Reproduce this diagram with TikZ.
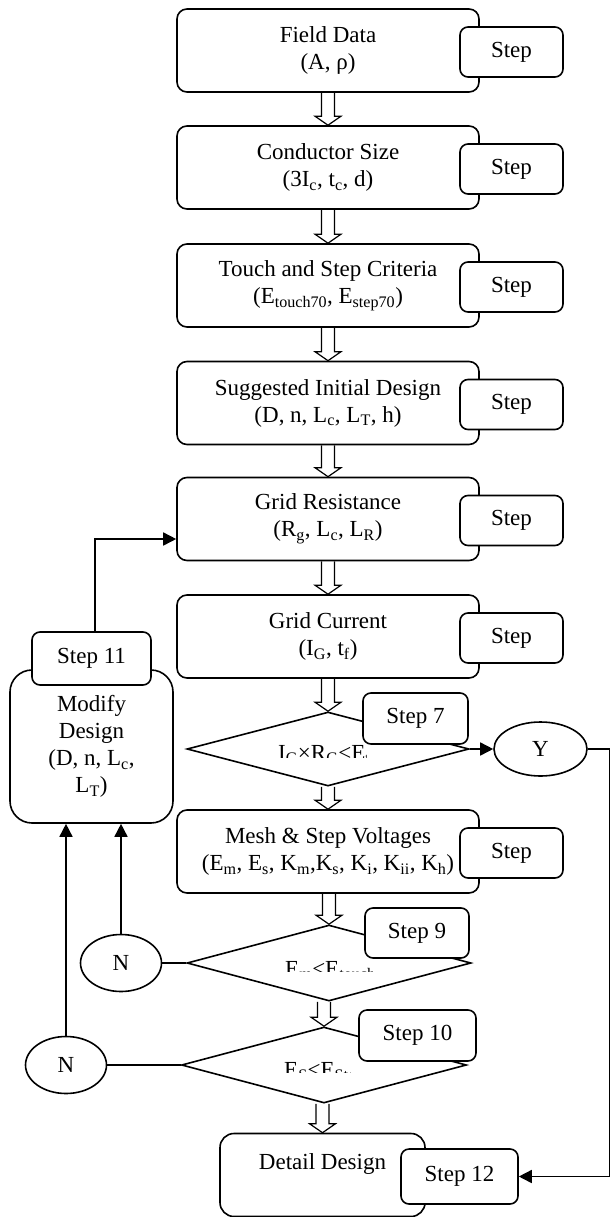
\documentclass[tikz,border=0pt]{standalone}
\usepackage{fontspec}
\setmainfont{Liberation Serif}
\usetikzlibrary{shapes.geometric,arrows.meta,calc}

\newcommand{\fsz}{\fontsize{23}{27}\selectfont}
\newcommand{\FCarr}[2]{\draw[hollow] let \p1=(#1.south), \p2=(#2.north) in
  (\x2-6.5pt,\y1) -- (\x2-6.5pt,\y2+9pt) -- (\x2-13pt,\y2+9pt) -- (\x2,\y2)
  -- (\x2+13pt,\y2+9pt) -- (\x2+6.5pt,\y2+9pt) -- (\x2+6.5pt,\y1);}

\begin{document}
\begin{tikzpicture}[x=1pt,y=-1pt,font=\fsz,
  procbox/.style={draw,line width=1.6pt,rounded corners=10pt,minimum width=302pt,minimum height=83pt,align=center,inner sep=2pt},
  stepbox/.style={draw,fill=white,line width=1.6pt,rounded corners=8pt,minimum width=103pt,minimum height=50pt,inner sep=2pt},
  decbox/.style={diamond,draw,line width=1.6pt,inner sep=0pt},
  ans/.style={ellipse,draw,line width=1.6pt,inner sep=0pt,minimum width=81pt,minimum height=57pt},
  hollow/.style={line width=1.2pt},
  link/.style={line width=1.6pt},
  solidarr/.style={-{Triangle[length=13pt,width=13pt]}}]
  \useasboundingbox (0,0) rectangle (611,1217);

  \foreach \nm/\yy/\txt in {fd/50.5/{Field Data\\(A, ρ)},
      cs/167.5/{Conductor Size\\(3I\textsubscript{c}, t\textsubscript{c}, d)},
      tsc/285.5/{Touch and Step Criteria\\(E\textsubscript{touch70}, E\textsubscript{step70})},
      sid/403/{Suggested Initial Design\\(D, n, L\textsubscript{c}, L\textsubscript{T}, h)},
      gr/519/{Grid Resistance\\(R\textsubscript{g}, L\textsubscript{c}, L\textsubscript{R})},
      gc/636.5/{Grid Current\\(I\textsubscript{G}, t\textsubscript{f})},
      msv/851.5/{Mesh \& Step Voltages\\(E\textsubscript{m}, E\textsubscript{s}, K\textsubscript{m},K\textsubscript{s}, K\textsubscript{i}, K\textsubscript{ii}, K\textsubscript{h})}}{
    \node[procbox] (\nm) at (328,\yy) {\txt};
    \node[stepbox] (\nm s) at (511.5,\yy+1.5) {Step};
  }

  \node[decbox,minimum width=282pt,minimum height=74pt] (d1) at (328,749) {};
  \begin{scope}
    \clip (270,738) rectangle (366,757);
    \node[anchor=base west,inner sep=0pt] (t1) at (278,760) {I\textsubscript{G}×R\textsubscript{G}<E\textsubscript{touch70}};
  \end{scope}
  \node[stepbox,minimum width=105pt,minimum height=51pt] (s7) at (415.5,718.5) {Step 7};

  \node[decbox,minimum width=284pt,minimum height=76pt] (d2) at (329,963) {};
  \begin{scope}
    \clip (280,955) rectangle (372,971.5);
    \node[anchor=base west,inner sep=0pt] (t2) at (285,976) {E\textsubscript{m}<E\textsubscript{touch70}};
  \end{scope}
  \node[stepbox,minimum width=104pt,minimum height=50pt] (s9) at (417,933) {Step 9};

  \node[decbox,minimum width=285pt,minimum height=76pt] (d3) at (324,1065) {};
  \begin{scope}
    \clip (278,1055) rectangle (350,1072.5);
    \node[anchor=base west,inner sep=0pt] (t3) at (284,1077) {E\textsubscript{S}<E\textsubscript{Step70}};
  \end{scope}
  \node[stepbox,minimum width=117pt,minimum height=51pt] (s10) at (417.5,1035.5) {Step 10};

  \node[procbox,minimum width=205pt,rounded corners=14pt] (dd) at (322.5,1175) {Detail Design\\~};
  \node[stepbox,minimum width=117pt,minimum height=55pt] (s12) at (459.5,1176.5) {Step 12};

  \node[draw,line width=1.6pt,rounded corners=22pt,minimum width=163pt,minimum height=153pt,align=center] (mod) at (91.5,746.5) {Modify\\Design\\(D, n, L\textsubscript{c},\\L\textsubscript{T})};
  \node[stepbox,minimum width=119pt,minimum height=53pt] (s11) at (91.5,658.5) {Step 11};

  \node[ans] (n1) at (121,963) {N};
  \node[ans] (n2) at (66,1065) {N};
  \node[ans,minimum width=93pt,minimum height=54pt] (yes) at (540.5,749) {Y};
  \coordinate (rt) at (609.5,749);

  \foreach \a/\b in {fd/cs,cs/tsc,tsc/sid,sid/gr,gr/gc,gc/d1,d1/msv,msv/d2,d2/d3,d3/dd}{\FCarr{\a}{\b}}

  \draw[link,solidarr] ([xshift=3.5pt]s11.north) |- ([yshift=-20pt]gr.west);
  \draw[link,solidarr] (d1.east) -- (yes.west);
  \draw[link] (yes.east) -- (rt);
  \draw[link,solidarr] (rt) |- (s12.east);
  \draw[link] (d2.west) -- (n1.east);
  \draw[link,solidarr] (n1.north) -- (n1.north |- mod.south);
  \draw[link] (d3.west) -- (n2.east);
  \draw[link,solidarr] (n2.north) -- (n2.north |- mod.south);
\end{tikzpicture}
\end{document}
